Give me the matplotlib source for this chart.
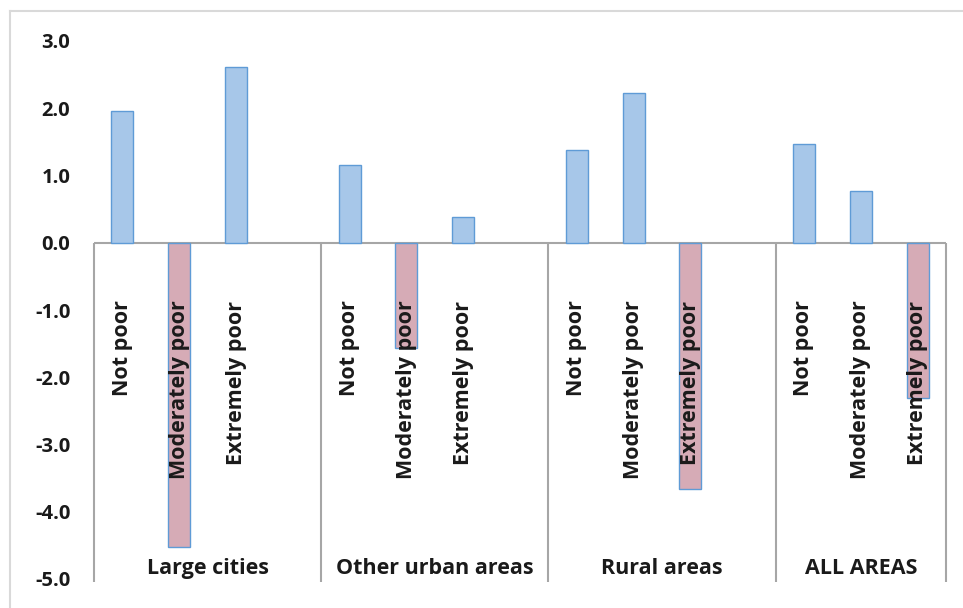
import matplotlib.pyplot as plt
from matplotlib.lines import Line2D

# data
groups = ["Large cities", "Other urban areas", "Rural areas", "ALL AREAS"]
levels = ["Not poor", "Moderately poor", "Extremely poor"]
large_cities = [1.96, -4.52, 2.62]
other_urban = [1.15, -1.57, 0.39]
rural = [1.38, 2.23, -3.66]
all_areas = [1.47, 0.77, -2.31]
y_ticks = [3.0, 2.0, 1.0, 0.0, -1.0, -2.0, -3.0, -4.0, -5.0]

series = [large_cities, other_urban, rural, all_areas]

plt.rcParams["font.family"] = ["Open Sans", "DejaVu Sans"]

fig = plt.figure(figsize=(9.63, 6.08), dpi=100)
ax = fig.add_axes([94 / 963, 1 - 579 / 608, (946 - 94) / 963, (579 - 41) / 608])

pos_face = "#a7c7e9"
neg_face = "#d6abb6"
edge = "#5f9bd6"
grid_grey = "#a6a6a6"
txt = "#1a1a1a"

# each group takes 4 slots (3 bars + a gap), last group ends at the plot edge
for g, vals in enumerate(series):
    for i, v in enumerate(vals):
        x = g * 4 + i
        ax.bar(x, v, width=0.39, color=pos_face if v >= 0 else neg_face,
               edgecolor=edge, linewidth=1.0, zorder=3)
        ax.text(x, -0.86, levels[i], rotation=90, ha="center", va="top",
                fontsize=15.5, fontweight="bold", color=txt, zorder=4)
    left = g * 4 - 0.5
    right = min(g * 4 + 3.5, 14.5)
    ax.text((left + right) / 2, -4.85, groups[g], ha="center", va="center",
            fontsize=15.5, fontweight="bold", color=txt)

seps = [-0.5, 3.5, 7.5, 11.5, 14.5]
ax.vlines(seps, -5.05, 0, colors=grid_grey, linewidth=1.5, clip_on=False, zorder=2)
ax.axhline(0, color=grid_grey, linewidth=1.5, zorder=2)

ax.set_xlim(-0.5, 14.5)
ax.set_ylim(-5, 3)
ax.set_yticks(y_ticks)
ax.set_yticklabels([f"{t:.1f}" for t in y_ticks], fontsize=14.5, fontweight="bold",
                   color=txt)
ax.set_xticks([])
ax.tick_params(axis="y", length=0, pad=17)
for s in ax.spines.values():
    s.set_visible(False)

# chart area border (top and left visible)
fig.add_artist(Line2D([10 / 963, 1], [1 - 11 / 608, 1 - 11 / 608],
                      transform=fig.transFigure, color="#d9d9d9", linewidth=1.5))
fig.add_artist(Line2D([10 / 963, 10 / 963], [0, 1 - 11 / 608],
                      transform=fig.transFigure, color="#d9d9d9", linewidth=1.5))

fig.savefig("out.png", dpi=100)
